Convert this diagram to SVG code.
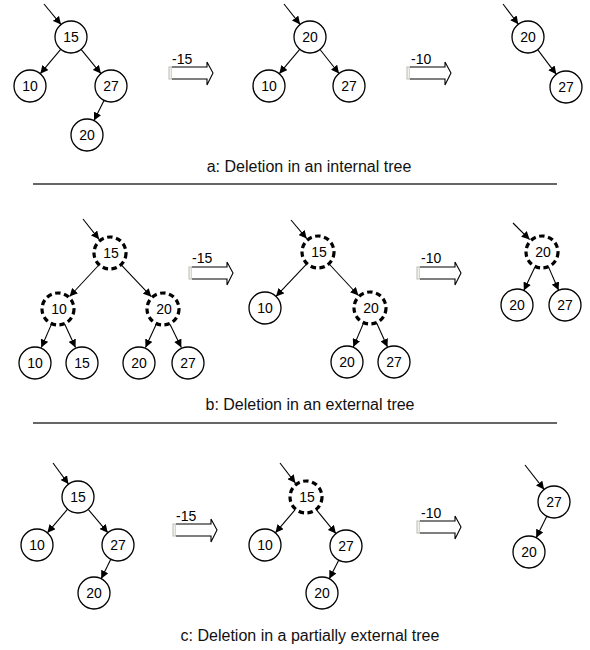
<svg xmlns="http://www.w3.org/2000/svg" xmlns:xlink="http://www.w3.org/1999/xlink" width="590" height="650" viewBox="0 0 590 650">
<style>
.n{fill:#fff;stroke:#000;stroke-width:1.3}
.d{fill:#fff;stroke:#000;stroke-width:3.2;stroke-dasharray:5.5 3.5}
.t{font-family:"Liberation Sans",Arial,sans-serif;font-size:14px;fill:#000;text-anchor:middle}
.op{font-family:"Liberation Sans",Arial,sans-serif;font-size:14px;fill:#000}
.cap{font-family:"Liberation Sans",Arial,sans-serif;font-size:16px;fill:#111;text-anchor:middle}
.e{stroke:#000;stroke-width:1.1;fill:none;marker-end:url(#ah)}
.sep{stroke:#333;stroke-width:1.5}
</style>
<defs>
<marker id="ah" markerUnits="userSpaceOnUse" markerWidth="9" markerHeight="8" refX="8" refY="4" orient="auto">
<path d="M0,0 L8,4 L0,8 Z" fill="#000"/>
</marker>
<g id="blk">
<rect x="0" y="0" width="3" height="12" fill="#f2f0e6" stroke="#bbb" stroke-width="1"/>
<path d="M3,0 H38 V-5 L44,6 L38,18 V12 H3" fill="#fff" stroke="#000" stroke-width="1.1"/>
</g>
</defs>

<!-- connectors -->
<g id="connectors">
<!-- a left -->
<line class="e" x1="44" y1="4" x2="61" y2="24.6"/>
<line class="e" x1="60.7" y1="49.3" x2="40.3" y2="73.7"/>
<line class="e" x1="81.1" y1="49.4" x2="100.9" y2="73.6"/>
<line class="e" x1="104" y1="100.4" x2="94" y2="120.6"/>
<!-- a middle -->
<line class="e" x1="284" y1="4" x2="300.1" y2="24.4"/>
<line class="e" x1="299.7" y1="49.3" x2="279.3" y2="73.7"/>
<line class="e" x1="320" y1="49.5" x2="339" y2="73.5"/>
<!-- a right -->
<line class="e" x1="503" y1="4" x2="518.3" y2="24.2"/>
<line class="e" x1="537.7" y1="49.7" x2="556.3" y2="74.3"/>
<!-- b left -->
<line class="e" x1="83" y1="219" x2="99.1" y2="239.3"/>
<line class="e" x1="98.4" y1="265.5" x2="69.6" y2="296.5"/>
<line class="e" x1="121.7" y1="265.3" x2="151.3" y2="296.7"/>
<line class="e" x1="51.3" y1="324.6" x2="41.3" y2="347.5"/>
<line class="e" x1="64.9" y1="324.5" x2="75.5" y2="347.5"/>
<line class="e" x1="156.1" y1="324.5" x2="145.5" y2="347.5"/>
<line class="e" x1="170.1" y1="324.4" x2="181.3" y2="347.5"/>
<!-- b middle -->
<line class="e" x1="291" y1="220" x2="306.7" y2="238.6"/>
<line class="e" x1="306.3" y1="264.3" x2="276" y2="296.4"/>
<line class="e" x1="329.6" y1="264.5" x2="358.4" y2="295.5"/>
<line class="e" x1="363.3" y1="323.6" x2="353.3" y2="347"/>
<line class="e" x1="376.9" y1="323.5" x2="387.5" y2="347"/>
<!-- b right -->
<line class="e" x1="513" y1="223" x2="529.6" y2="239.6"/>
<line class="e" x1="534.7" y1="267.4" x2="523.8" y2="290.5"/>
<line class="e" x1="548.8" y1="267.6" x2="558.6" y2="290.3"/>
<!-- c left -->
<line class="e" x1="53" y1="463" x2="68.5" y2="484.1"/>
<line class="e" x1="67.6" y1="509.2" x2="47.4" y2="532.8"/>
<line class="e" x1="88.2" y1="509.3" x2="107.8" y2="532.7"/>
<line class="e" x1="110.8" y1="559.3" x2="101.2" y2="578.7"/>
<!-- c middle -->
<line class="e" x1="280" y1="463" x2="295.4" y2="483.1"/>
<line class="e" x1="295" y1="509.9" x2="275.4" y2="532.8"/>
<line class="e" x1="316.7" y1="510.2" x2="335.9" y2="533.6"/>
<line class="e" x1="338.7" y1="560.2" x2="329.3" y2="578.8"/>
<!-- c right -->
<line class="e" x1="525" y1="465" x2="544.1" y2="489.4"/>
<line class="e" x1="546.8" y1="516.3" x2="536.2" y2="537.7"/>
</g>

<!-- transition arrows -->
<g id="op-a1"><use xlink:href="#blk" href="#blk" transform="translate(169,67)"/><text class="op" x="172" y="64">-15</text></g>
<g id="op-a2"><use xlink:href="#blk" href="#blk" transform="translate(407,67)"/><text class="op" x="411" y="64">-10</text></g>
<g id="op-b1"><use xlink:href="#blk" href="#blk" transform="translate(189,267)"/><text class="op" x="192" y="263">-15</text></g>
<g id="op-b2"><use xlink:href="#blk" href="#blk" transform="translate(417,267)"/><text class="op" x="421" y="263">-10</text></g>
<g id="op-c1"><use xlink:href="#blk" href="#blk" transform="translate(173,524)"/><text class="op" x="176" y="521">-15</text></g>
<g id="op-c2"><use xlink:href="#blk" href="#blk" transform="translate(417,521)"/><text class="op" x="421" y="518">-10</text></g>

<!-- panel a -->
<g id="a1-15"><circle class="n" cx="71" cy="37" r="16"/><text class="t" x="71" y="42">15</text></g>
<g id="a1-10"><circle class="n" cx="30" cy="86" r="16"/><text class="t" x="30" y="91">10</text></g>
<g id="a1-27"><circle class="n" cx="111" cy="86" r="16"/><text class="t" x="111" y="91">27</text></g>
<g id="a1-20"><circle class="n" cx="87" cy="135" r="16"/><text class="t" x="87" y="140">20</text></g>
<g id="a2-20"><circle class="n" cx="310" cy="37" r="16"/><text class="t" x="310" y="42">20</text></g>
<g id="a2-10"><circle class="n" cx="269" cy="86" r="16"/><text class="t" x="269" y="91">10</text></g>
<g id="a2-27"><circle class="n" cx="349" cy="86" r="16"/><text class="t" x="349" y="91">27</text></g>
<g id="a3-20"><circle class="n" cx="528" cy="37" r="16"/><text class="t" x="528" y="42">20</text></g>
<g id="a3-27"><circle class="n" cx="566" cy="87" r="16"/><text class="t" x="566" y="92">27</text></g>
<text class="cap" x="309" y="172">a: Deletion in an internal tree</text>
<line class="sep" x1="33" y1="184" x2="557" y2="184"/>

<!-- panel b -->
<g id="b1-15"><circle class="d" cx="110" cy="253" r="16"/><text class="t" x="111" y="258">15</text></g>
<g id="b1-10i"><circle class="d" cx="58" cy="309" r="16"/><text class="t" x="59" y="314">10</text></g>
<g id="b1-20i"><circle class="d" cx="163" cy="309" r="16"/><text class="t" x="164" y="314">20</text></g>
<g id="b1-10"><circle class="n" cx="35" cy="363" r="16"/><text class="t" x="35" y="368">10</text></g>
<g id="b1-15l"><circle class="n" cx="82" cy="363" r="16"/><text class="t" x="82" y="368">15</text></g>
<g id="b1-20"><circle class="n" cx="139" cy="363" r="16"/><text class="t" x="139" y="368">20</text></g>
<g id="b1-27"><circle class="n" cx="188" cy="363" r="16"/><text class="t" x="188" y="368">27</text></g>
<g id="b2-15"><circle class="d" cx="318" cy="252" r="16"/><text class="t" x="319" y="257">15</text></g>
<g id="b2-10"><circle class="n" cx="265" cy="308" r="16"/><text class="t" x="265" y="313">10</text></g>
<g id="b2-20i"><circle class="d" cx="370" cy="308" r="16"/><text class="t" x="371" y="313">20</text></g>
<g id="b2-20"><circle class="n" cx="347" cy="362" r="16"/><text class="t" x="347" y="367">20</text></g>
<g id="b2-27"><circle class="n" cx="394" cy="362" r="16"/><text class="t" x="394" y="367">27</text></g>
<g id="b3-20i"><circle class="d" cx="542" cy="252" r="16"/><text class="t" x="543" y="257">20</text></g>
<g id="b3-20"><circle class="n" cx="517" cy="305" r="16"/><text class="t" x="517" y="310">20</text></g>
<g id="b3-27"><circle class="n" cx="565" cy="305" r="16"/><text class="t" x="565" y="310">27</text></g>
<text class="cap" x="310" y="410">b: Deletion in an external tree</text>
<line class="sep" x1="33" y1="423" x2="557" y2="423"/>

<!-- panel c -->
<g id="c1-15"><circle class="n" cx="78" cy="497" r="16"/><text class="t" x="78" y="502">15</text></g>
<g id="c1-10"><circle class="n" cx="37" cy="545" r="16"/><text class="t" x="37" y="550">10</text></g>
<g id="c1-27"><circle class="n" cx="118" cy="545" r="16"/><text class="t" x="118" y="550">27</text></g>
<g id="c1-20"><circle class="n" cx="94" cy="593" r="16"/><text class="t" x="94" y="598">20</text></g>
<g id="c2-15"><circle class="d" cx="306" cy="497" r="16"/><text class="t" x="307" y="502">15</text></g>
<g id="c2-10"><circle class="n" cx="265" cy="545" r="16"/><text class="t" x="265" y="550">10</text></g>
<g id="c2-27"><circle class="n" cx="346" cy="546" r="16"/><text class="t" x="346" y="551">27</text></g>
<g id="c2-20"><circle class="n" cx="322" cy="593" r="16"/><text class="t" x="322" y="598">20</text></g>
<g id="c3-27"><circle class="n" cx="554" cy="502" r="16"/><text class="t" x="554" y="507">27</text></g>
<g id="c3-20"><circle class="n" cx="529" cy="552" r="16"/><text class="t" x="529" y="557">20</text></g>
<text class="cap" x="310" y="641">c: Deletion in a partially external tree</text>
</svg>
